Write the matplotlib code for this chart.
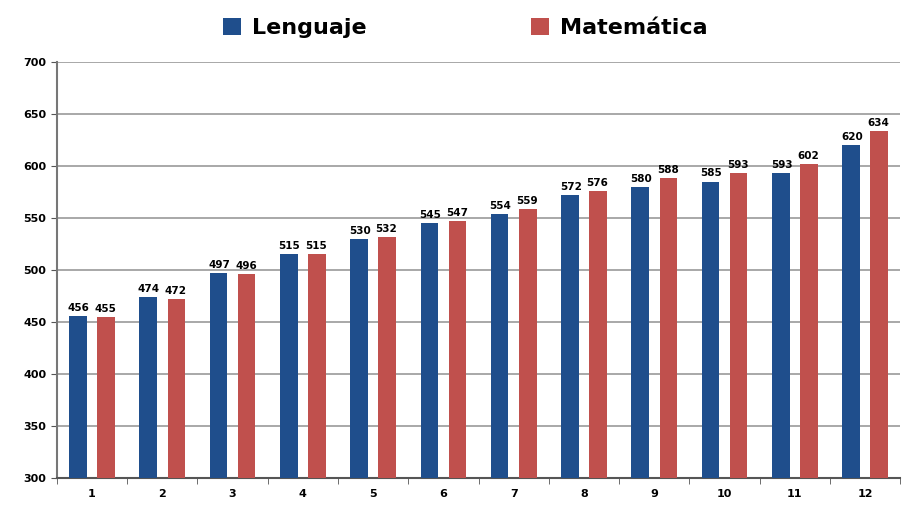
import matplotlib.pyplot as plt
import numpy as np

grupos = [str(i) for i in range(1, 13)]
lenguaje = [456, 474, 497, 515, 530, 545, 554, 572, 580, 585, 593, 620]
matematica = [455, 472, 496, 515, 532, 547, 559, 576, 588, 593, 602, 634]

azul = "#1F4E8C"
rojo = "#C0504D"

fig = plt.figure(figsize=(9.03, 5.08), dpi=100)
ax = fig.add_axes([0.063, 0.059, 0.934, 0.819])

x = np.arange(len(grupos))
w = 0.25
b1 = ax.bar(x - 0.2, np.array(lenguaje) - 300, w, bottom=300, color=azul, zorder=3)
b2 = ax.bar(x + 0.2, np.array(matematica) - 300, w, bottom=300, color=rojo, zorder=3)

for xi, v in zip(x, lenguaje):
    ax.text(xi - 0.19, v + 3, str(v), ha="center", va="bottom", fontsize=7.5, fontweight="bold")
for xi, v in zip(x, matematica):
    ax.text(xi + 0.19, v + 3, str(v), ha="center", va="bottom", fontsize=7.5, fontweight="bold")

ax.set_ylim(300, 700)
ax.set_xlim(-0.5, 11.5)
ax.set_yticks(range(300, 701, 50))
ax.set_xticks(x)
ax.set_xticklabels(grupos)
ax.set_xticks(np.arange(-0.5, 12, 1), minor=True)
ax.tick_params(axis="x", which="major", length=0, pad=8)
ax.tick_params(axis="x", which="minor", length=4, color="#555555")
ax.tick_params(axis="y", length=4, color="#555555")
for lab in ax.get_xticklabels() + ax.get_yticklabels():
    lab.set_fontsize(8)
    lab.set_fontweight("bold")

ax.grid(axis="y", color="#9a9a9a", linewidth=1.2, zorder=0)
for s in ["top", "right"]:
    ax.spines[s].set_visible(False)
ax.spines["left"].set_color("#777777")
ax.spines["left"].set_linewidth(1.5)
ax.spines["bottom"].set_color("#555555")
ax.spines["bottom"].set_linewidth(1.5)

fig.legend([b1, b2], ["Lenguaje", "Matemática"], loc="center", bbox_to_anchor=(0.515, 0.945),
           ncol=2, frameon=False, prop={"size": 16, "weight": "bold"},
           handlelength=0.8, handleheight=0.8, columnspacing=7.4, handletextpad=0.5)

fig.savefig("out.png", dpi=100)
